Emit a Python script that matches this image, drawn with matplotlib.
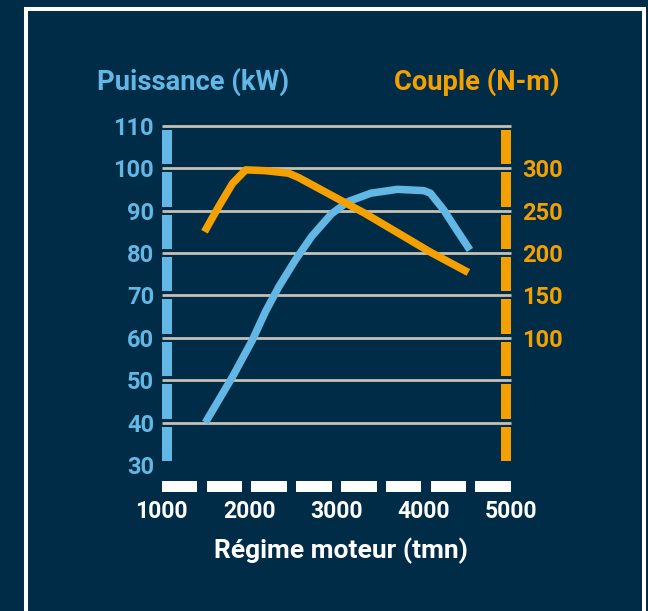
import matplotlib
matplotlib.use("Agg")
import matplotlib.pyplot as plt
from matplotlib.patches import Rectangle

# engine speed (tmn) and values
rpm_power = [1500, 1811, 2037, 2189, 2340, 2529, 2717, 2943, 3132, 3396, 3699, 4001, 4076,
             4227, 4378, 4529]
power_kw = [40, 50.8, 59.4, 66.2, 72, 78.3, 83.9, 89.2, 92.1, 94.1, 95, 94.7, 94.1,
            90.2, 85.4, 80.7]

rpm_torque = [1490, 1660, 1811, 1962, 2189, 2453, 2566, 2943, 3321, 3699, 4076, 4511]
torque_nm = [225, 256, 282, 298, 297, 294, 289, 268, 247, 224, 201, 177]

x_ticks = [1000, 2000, 3000, 4000, 5000]
kw_ticks = [30, 40, 50, 60, 70, 80, 90, 100, 110]
nm_ticks = [100, 150, 200, 250, 300]

BG = "#012c47"
BLUE = "#63b7e5"
ORANGE = "#f4a000"
GRID = "#c6c1b4"
FONT = "Roboto"

fig = plt.figure(figsize=(6.48, 6.11), dpi=100, facecolor=BG)
ax = fig.add_axes([161.7 / 648, 0.1904, (519.8 - 161.7) / 648, 0.6385])
ax.set_facecolor("none")
ax.set_xlim(1000, 5100)
ax.set_ylim(23, 115)
for s in ax.spines.values():
    s.set_visible(False)

# right axis: torque = 5 * kW - 200
ax2 = ax.twinx()
ax2.set_ylim(5 * 23 - 200, 5 * 115 - 200)
for s in ax2.spines.values():
    s.set_visible(False)

# grid lines
ax.hlines(kw_ticks[1:], 1000, 5000, color=GRID, lw=2, zorder=1)

# dashed vertical bars left and right
for lo, hi in zip(kw_ticks[:-1], kw_ticks[1:]):
    ax.add_patch(Rectangle((1000, lo + 0.95), 120, 10 - 1.9, color=BLUE, lw=0, zorder=2))
    ax.add_patch(Rectangle((4880, lo + 0.95), 120, 10 - 1.9, color=ORANGE, lw=0, zorder=2))

# dashed x axis
n_dash = 8
dash = 408
step = (4000 - dash) / (n_dash - 1)
for i in range(n_dash):
    ax.add_patch(Rectangle((1000 + i * step, 23.7), dash, 2.5, color="white", lw=0, zorder=2))

# curves
ax.plot(rpm_power, power_kw, color=BLUE, lw=5.4, solid_capstyle="butt",
        solid_joinstyle="round", zorder=3)
ax2.plot(rpm_torque, torque_nm, color=ORANGE, lw=5.4, solid_capstyle="butt",
         solid_joinstyle="round", zorder=4)

# ticks
ax.set_yticks(kw_ticks)
ax.set_yticklabels([str(v) for v in kw_ticks], color=BLUE, fontsize=17,
                   fontweight="bold", family=FONT)
ax.tick_params(axis="y", length=0, pad=5.5)
ax.set_xticks(x_ticks)
ax.set_xticklabels([str(v) for v in x_ticks], color="white", fontsize=16.5,
                   fontweight="bold", family=FONT)
ax.tick_params(axis="x", length=0, pad=4.2)
ax2.set_yticks(nm_ticks)
ax2.set_yticklabels([str(v) for v in nm_ticks], color=ORANGE, fontsize=17,
                    fontweight="bold", family=FONT)
ax2.tick_params(axis="y", length=0, pad=1.5)

# titles
fig.text(193.5 / 648, (611 - 90) / 611, "Puissance (kW)", color=BLUE, fontsize=19.7,
         fontweight="bold", family=FONT, ha="center", va="baseline")
fig.text(477 / 648, (611 - 90) / 611, "Couple (N-m)", color=ORANGE, fontsize=19.7,
         fontweight="bold", family=FONT, ha="center", va="baseline")
fig.text(341 / 648, (611 - 558) / 611, "Régime moteur (tmn)", color="white", fontsize=19,
         fontweight="bold", family=FONT, ha="center", va="baseline")

# white frame
fig.add_artist(Rectangle((26 / 648, -0.1), (644 - 26) / 648, 1.1 - 9.3 / 611,
                         fill=False, ec="white", lw=2.9, transform=fig.transFigure))

fig.savefig("out.png", dpi=100, facecolor=BG)
